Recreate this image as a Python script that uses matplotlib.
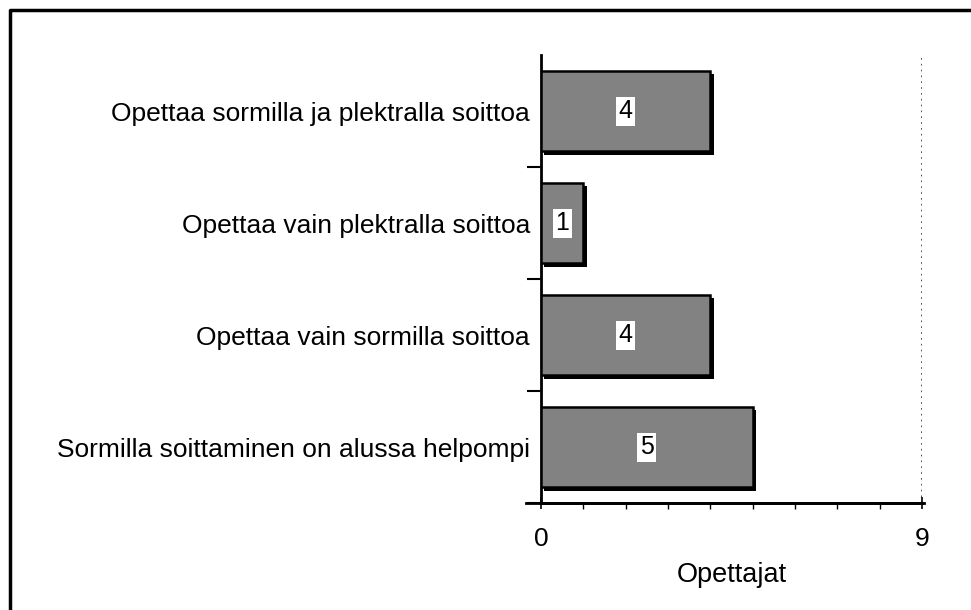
import matplotlib
matplotlib.use("Agg")
import matplotlib.pyplot as plt
import matplotlib.patheffects as pe
from matplotlib.lines import Line2D

categories = [
    "Opettaa sormilla ja plektralla soittoa",
    "Opettaa vain plektralla soittoa",
    "Opettaa vain sormilla soittoa",
    "Sormilla soittaminen on alussa helpompi",
]
values = [4, 1, 4, 5]
x_label = "Opettajat"
x_max = 9

plt.rcParams['font.family'] = ['Liberation Sans', 'DejaVu Sans']

fig = plt.figure(figsize=(9.71, 6.10), dpi=100)
ax = fig.add_axes([541/971, 1-503/610, (922-541)/971, (503-55)/610])

n = len(categories)
ypos = list(range(n - 1, -1, -1))
bars = ax.barh(ypos, values, height=0.72, color='#828282', edgecolor='black',
               linewidth=1.8, zorder=3)
for b in bars:
    b.set_path_effects([pe.SimplePatchShadow(offset=(2.5, -2.5), shadow_rgbFace='black', alpha=1.0),
                        pe.Normal()])

for y, v in zip(ypos, values):
    ax.text(v / 2, y, str(v), ha='center', va='center', fontsize=18, color='black',
            bbox=dict(boxstyle='square,pad=0.1', facecolor='white', edgecolor='none'),
            zorder=5)

ax.set_xlim(0, x_max)
ax.set_ylim(-0.5, n - 0.5)
ax.axvline(x_max, color='#333333', linestyle=(0, (1, 2.5)), linewidth=1.2, zorder=1)

# ticks
ax.set_xticks([0, x_max])
ax.set_xticklabels(['0', str(x_max)], fontsize=19)
ax.set_xticks(range(1, x_max), minor=True)
ax.tick_params(axis='x', which='major', length=8, width=1.2, pad=13, direction='inout')
ax.tick_params(axis='x', which='minor', length=4, width=1, direction='out')

ax.set_yticks([y + 0.5 for y in range(n - 1)] + [-0.5])
ax.set_yticklabels([])
ax.set_yticks(ypos, minor=True)
ax.set_yticklabels(categories, minor=True, fontsize=19)
ax.tick_params(axis='y', which='major', length=10, width=1.5, direction='out')
ax.tick_params(axis='y', which='minor', length=0, pad=8)

ax.set_xlabel(x_label, fontsize=19.5, labelpad=8)

for s in ['top', 'right']:
    ax.spines[s].set_visible(False)
ax.spines['left'].set_linewidth(2)
ax.spines['bottom'].set_linewidth(2)

# extended axis line to the left
ax.add_line(Line2D([-0.04, 1.005], [0, 0], transform=ax.transAxes, color='black',
                   linewidth=2, clip_on=False))

# figure frame (left and top)
fig.add_artist(Line2D([10/971, 10/971, 1], [0, 1-10/610, 1-10/610], transform=fig.transFigure,
                      color='black', linewidth=2.5))

fig.savefig('out.png', dpi=100)
